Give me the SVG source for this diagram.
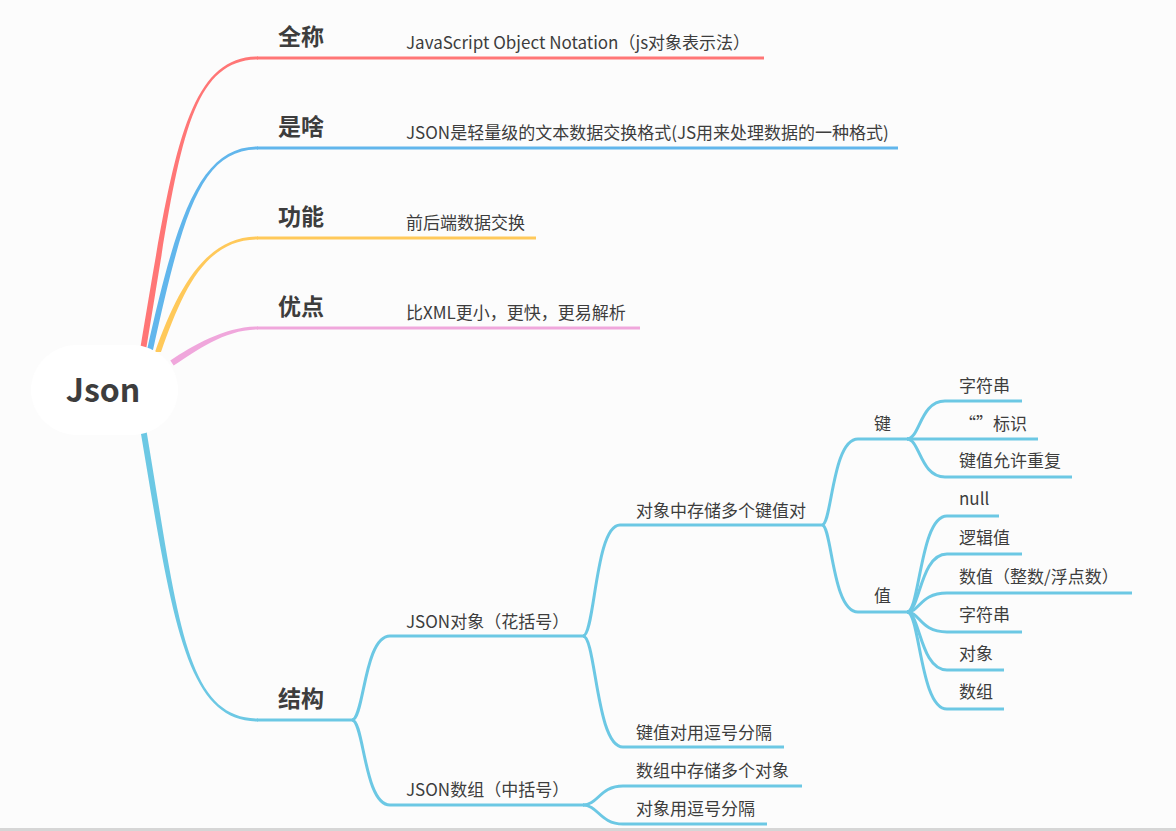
<svg xmlns="http://www.w3.org/2000/svg" width="1176" height="831" viewBox="0 0 1176 831">
<style>
text{font-family:"Noto Sans CJK SC","Noto Sans",sans-serif;fill:#3d3d3d}
.t1{font-size:23px;font-weight:bold}
.t2{font-size:17px}
.root{font-size:32px;font-weight:bold}
.ln{fill:none;stroke-width:3;stroke-linecap:butt}
.cy{stroke:#6cc8e4}
</style>
<rect x="0" y="0" width="1176" height="831" fill="#fcfcfc"/>
<rect x="0" y="828" width="1176" height="3" fill="#d6d6d6"/>
<g id="connectors">
  <path d="M140,350 C172,160 185,56.5 258,56.5 L258,59.5 C185,59.5 178,160 146,350 Z" fill="#ff7676"/>
  <path class="ln" d="M257,58 H764" stroke="#ff7676"/>
  <path d="M147,350 C177,215 200,146.5 258,146.5 L258,149.5 C200,149.5 183,215 153,350 Z" fill="#61b6ec"/>
  <path class="ln" d="M257,148 H898" stroke="#61b6ec"/>
  <path d="M155,352 C177,290 205,236.5 258,236.5 L258,239.5 C205,239.5 183,290 161,352 Z" fill="#ffc95a"/>
  <path class="ln" d="M257,238 H536" stroke="#ffc95a"/>
  <path d="M170.3,360.5 C193,345.5 225,326.5 258,326.5 L258,329.5 C225,329.5 197,350.5 173.7,365.5 Z" fill="#f0a7dc"/>
  <path class="ln" d="M257,328 H640" stroke="#f0a7dc"/>
  <path d="M140,428 C172,618 185,721.5 258,721.5 L258,718.5 C185,718.5 178,618 146,428 Z" fill="#6cc8e4"/>
  <path class="ln cy" d="M257,720 H353"/>
  <path class="ln cy" d="M352,720 C364,720 364,636 390,636 H584"/>
  <path class="ln cy" d="M352,720 C364,720 364,805 390,805 H584"/>
  <path class="ln cy" d="M583,636 C595,636 595,525 620,525 H822"/>
  <path class="ln cy" d="M583,636 C596,636 596,747 623,747 H784"/>
  <path class="ln cy" d="M583,805 C598,805 600,786 623,786 H802"/>
  <path class="ln cy" d="M583,805 C598,805 600,824 623,824 H767"/>
  <path class="ln cy" d="M822,525 C832,525 832,439 858,439 H908"/>
  <path class="ln cy" d="M822,525 C832,525 832,612 858,612 H908"/>
  <path class="ln cy" d="M907,439 C920,439 920,401 945,401 H1022"/>
  <path class="ln cy" d="M907,439 H1038"/>
  <path class="ln cy" d="M907,439 C920,439 920,477 945,477 H1072"/>
  <path class="ln cy" d="M907,612 C920,612 920,516 947,516 H999"/>
  <path class="ln cy" d="M907,612 C920,612 920,554 947,554 H1022"/>
  <path class="ln cy" d="M907,612 C920,612 920,593 947,593 H1132"/>
  <path class="ln cy" d="M907,612 C920,612 920,632 947,632 H1022"/>
  <path class="ln cy" d="M907,612 C920,612 920,670 947,670 H1004"/>
  <path class="ln cy" d="M907,612 C920,612 920,709 947,709 H1004"/>
</g>
<g id="root">
  <rect x="31" y="345" width="147" height="90" rx="46" ry="45" fill="#ffffff"/>
  <text class="root" x="103" y="402" text-anchor="middle">Json</text>
</g>
<g id="n-quancheng"><text class="t1" x="278" y="45">全称</text></g>
<g id="n-quancheng-1"><text class="t2" x="406" y="49">JavaScript Object Notation（js对象表示法）</text></g>
<g id="n-shisha"><text class="t1" x="278" y="135">是啥</text></g>
<g id="n-shisha-1"><text class="t2" x="406" y="139">JSON是轻量级的文本数据交换格式(JS用来处理数据的一种格式)</text></g>
<g id="n-gongneng"><text class="t1" x="278" y="225">功能</text></g>
<g id="n-gongneng-1"><text class="t2" x="406" y="229">前后端数据交换</text></g>
<g id="n-youdian"><text class="t1" x="278" y="315">优点</text></g>
<g id="n-youdian-1"><text class="t2" x="406" y="319">比XML更小，更快，更易解析</text></g>
<g id="n-jiegou"><text class="t1" x="278" y="707">结构</text></g>
<g id="n-obj"><text class="t2" x="406" y="628">JSON对象（花括号）</text></g>
<g id="n-arr"><text class="t2" x="406" y="796">JSON数组（中括号）</text></g>
<g id="n-obj-kv"><text class="t2" x="636" y="517">对象中存储多个键值对</text></g>
<g id="n-obj-sep"><text class="t2" x="636" y="739">键值对用逗号分隔</text></g>
<g id="n-arr-store"><text class="t2" x="636" y="777">数组中存储多个对象</text></g>
<g id="n-arr-sep"><text class="t2" x="636" y="815">对象用逗号分隔</text></g>
<g id="n-key"><text class="t2" x="874" y="430">键</text></g>
<g id="n-val"><text class="t2" x="874" y="602">值</text></g>
<g id="n-key-str"><text class="t2" x="959" y="392">字符串</text></g>
<g id="n-key-quote"><text class="t2" x="959" y="430">“”<tspan x="993">标识</tspan></text></g>
<g id="n-key-dup"><text class="t2" x="959" y="467">键值允许重复</text></g>
<g id="n-val-null"><text class="t2" x="959" y="505">null</text></g>
<g id="n-val-bool"><text class="t2" x="959" y="544">逻辑值</text></g>
<g id="n-val-num"><text class="t2" x="959" y="583">数值（整数/浮点数）</text></g>
<g id="n-val-str"><text class="t2" x="959" y="621">字符串</text></g>
<g id="n-val-obj"><text class="t2" x="959" y="660">对象</text></g>
<g id="n-val-arr"><text class="t2" x="959" y="698">数组</text></g>
</svg>
